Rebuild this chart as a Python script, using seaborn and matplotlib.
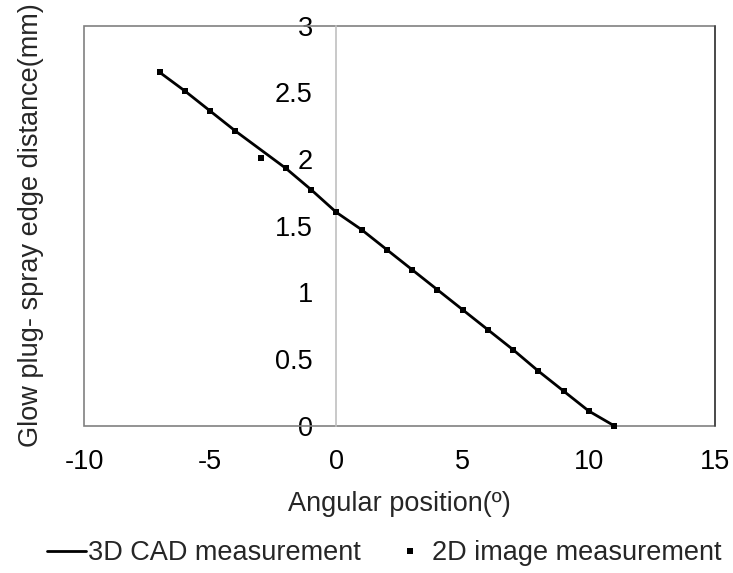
import matplotlib
matplotlib.use("Agg")
import matplotlib.pyplot as plt
import seaborn as sns
import pandas as pd
from matplotlib.patches import Rectangle
from matplotlib.lines import Line2D

# Angular positions (degrees)
angles = [-7, -6, -5, -4, -3, -2, -1, 0, 1, 2, 3, 4, 5, 6, 7, 8, 9, 10, 11]

# Glow plug to spray edge distance (mm)
cad_distance = [2.65, 2.51, 2.36, 2.21, 2.07, 1.93, 1.77, 1.60, 1.47, 1.32,
                1.17, 1.02, 0.87, 0.72, 0.57, 0.41, 0.26, 0.11, 0.0]
image_distance = [2.65, 2.51, 2.36, 2.21, 2.01, 1.93, 1.77, 1.60, 1.47, 1.32,
                  1.17, 1.02, 0.87, 0.72, 0.57, 0.41, 0.26, 0.11, 0.0]

x_ticks = [-10, -5, 0, 5, 10, 15]
x_tick_labels = ["-10", "-5", "0", "5", "10", "15"]
y_ticks = [0, 0.5, 1, 1.5, 2, 2.5, 3]
y_tick_labels = ["0", "0.5", "1", "1.5", "2", "2.5", "3"]

cad_df = pd.DataFrame({"angle": angles, "distance": cad_distance})
img_df = pd.DataFrame({"angle": angles, "distance": image_distance})

sns.set_theme(style="white")
plt.rcParams["font.family"] = ["Liberation Sans", "DejaVu Sans"]
plt.rcParams["axes.unicode_minus"] = False
FS = 19.5

fig = plt.figure(figsize=(7.33, 5.73), dpi=100)
ax = fig.add_axes([84 / 733, 1 - 425.7 / 573, 631 / 733, 400 / 573])

sns.lineplot(data=cad_df, x="angle", y="distance", ax=ax, color="black",
             linewidth=2.0, clip_on=False, zorder=3)
sns.scatterplot(data=img_df, x="angle", y="distance", ax=ax, color="black",
                marker="s", s=16, linewidth=0, clip_on=False, zorder=4)

ax.set_xlim(-10, 15)
ax.set_ylim(0, 3)
ax.set_xticks(x_ticks)
ax.set_xticklabels(x_tick_labels)
ax.set_yticks(y_ticks)
ax.set_yticklabels(y_tick_labels)
ax.tick_params(axis="both", length=0, labelsize=FS, colors="black")
ax.tick_params(axis="x", pad=17)
ax.tick_params(axis="y", pad=17)
ax.set_xlabel("")
ax.set_ylabel("")

# vertical value axis crosses at x = 0
for side in ["top", "right", "bottom"]:
    ax.spines[side].set_visible(False)
ax.spines["left"].set_position(("data", 0))
ax.spines["left"].set_color("#c0c0c0")
ax.spines["left"].set_linewidth(1.2)

# plot-area border
ax.add_patch(Rectangle((0, 0), 1, 1, transform=ax.transAxes, fill=False,
                       edgecolor="#808080", linewidth=1.2, clip_on=False,
                       zorder=2))
ax.plot([1, 1], [0, 1], transform=ax.transAxes, color="#404040",
        linewidth=1.2, clip_on=False, zorder=2)

fig.text(399.5 / 733, 1 - 504 / 573, "Angular position(º)", fontsize=FS,
         ha="center", va="center")
fig.text(31 / 733, 1 - 225 / 573, "Glow plug- spray edge distance(mm)",
         fontsize=FS, ha="center", va="center", rotation=90)

handles = [
    Line2D([], [], color="black", linewidth=2.0),
    Line2D([], [], color="black", marker="s", linestyle="none", markersize=4,
           markeredgewidth=0),
]
fig.legend(handles, ["3D CAD measurement", "2D image measurement"],
           loc="center", bbox_to_anchor=(384 / 733, 1 - 553 / 573), ncol=2,
           frameon=False, fontsize=FS, handlelength=1.44, handletextpad=0.08,
           columnspacing=1.1, borderpad=0)

fig.savefig("out.png", dpi=100)
